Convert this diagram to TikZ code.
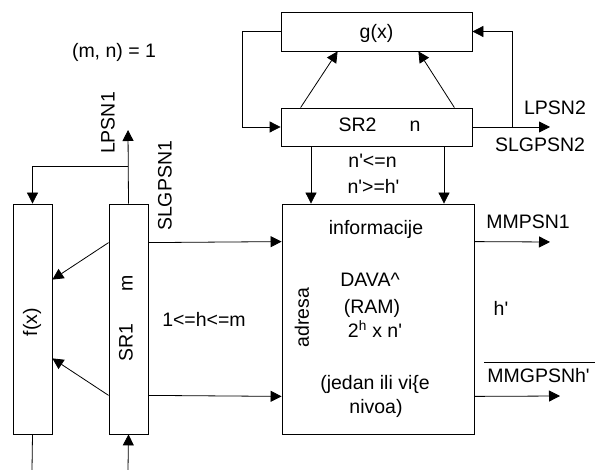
\documentclass[tikz,border=0pt]{standalone}
\usepackage{fontspec}
\setmainfont{Liberation Sans}
\usetikzlibrary{arrows.meta}
\newcommand{\ap}{\textquotesingle}
\tikzset{
  every node/.style={font=\fontsize{19.5}{23.4}\selectfont, inner sep=0pt},
  arr/.style={line width=0.8pt, -{Triangle[length=11pt,width=11pt]}},
  ln/.style={line width=0.8pt},
  lbl/.style={anchor=base},
  vlbl/.style={rotate=90, anchor=center}
}
\begin{document}
\begin{tikzpicture}[x=1pt,y=-1pt]
\useasboundingbox (0,0) rectangle (595,470);
% blocks
\node[draw, line width=0.8pt, minimum width=191pt, minimum height=39pt] (g) at (376.5,31.5) {};
\node[draw, line width=0.8pt, minimum width=191pt, minimum height=38pt] (sr2) at (376.5,127) {};
\node[draw, line width=0.8pt, minimum width=192pt, minimum height=230pt] (ram) at (378,319) {};
\node[draw, line width=0.8pt, minimum width=39pt, minimum height=230pt] (f) at (32.5,319) {};
\node[draw, line width=0.8pt, minimum width=39pt, minimum height=230pt] (sr1) at (128.5,319) {};
% coordinates
\coordinate (out2) at (550,127);
\coordinate (br2) at (512,127);
\coordinate (lp1) at (128,130);
\coordinate (br1) at (128,166);
\coordinate (fin) at (32,470);
\coordinate (srin) at (128,470);
\coordinate (o1) at (550,242);
\coordinate (o2) at (560,396);
% g / SR2 loop
\draw[arr] (g.west) -- ++(-38,0) |- (sr2.west);
\draw[arr] (sr2.east) -- (out2);
\draw[arr] (br2) |- (g.east);
\draw[arr] ([xshift=20pt]sr2.north west) -- ([xshift=57pt]g.south west);
\draw[arr] ([xshift=-18pt]sr2.north east) -- ([xshift=-54pt]g.south east);
% SR2 to RAM
\draw[arr] ([xshift=-65.5pt]sr2.south) -- ([xshift=-65.5pt]sr2.south |- ram.north);
\draw[arr] ([xshift=67.5pt]sr2.south) -- ([xshift=67.5pt]sr2.south |- ram.north);
% SR1
\draw[arr] (sr1.north) -- (lp1);
\draw[arr] (br1) -| (f.north);
\draw[arr] ([yshift=-39pt]sr1.north west) -- ([yshift=-76pt]f.north east);
\draw[arr] ([yshift=39pt]sr1.south west) -- ([yshift=76pt]f.south east);
\draw[arr] ([yshift=-39pt]sr1.north east) -- ([yshift=-38pt]ram.north west);
\draw[arr] ([yshift=39pt]sr1.south east) -- ([yshift=38pt]ram.south west);
\draw[ln] (f.south) -- (fin);
\draw[arr] (srin) -- (sr1.south);
% RAM outputs
\draw[arr] ([yshift=-38pt]ram.north east) -- (o1);
\draw[arr] ([yshift=38pt]ram.south east) -- (o2);
% labels
\node[lbl] (mn) at (114,58) {(m, n) = 1};
\node[lbl] (gx) at (376.5,39) {g(x)};
\node[lbl] (sr2t) at (379.5,132) {SR2\hspace{33pt}n};
\node[lbl] (lpsn2) at (555,115) {LPSN2};
\node[lbl] (slgpsn2) at (540,152) {SLGPSN2};
\node[lbl] (c1) at (372.5,168) {n\ap<=n};
\node[lbl] (c2) at (373.5,194) {n\ap>=h\ap};
\node[vlbl] (lpsn1) at (108,123) {LPSN1};
\node[vlbl] (slgpsn1) at (165,186) {SLGPSN1};
\node[vlbl] (fx) at (32,322) {f(x)};
\node[vlbl] (sr1t) at (126,318) {SR1\hspace{32pt}m};
\node[lbl] (hm) at (204,327) {1<=h<=m};
\node[vlbl] (adr) at (302,317.5) {adresa};
\node[lbl] (inf) at (376,235) {informacije};
\node[lbl] (dava) at (370,287) {DAVA\^{}};
\node[lbl] (ramt) at (372,314) {(RAM)};
\node[lbl] (dim) at (375,338) {2\textsuperscript{h} x n\ap};
\node[lbl] (jed) at (375,390) {(jedan ili vi\{e};
\node[lbl] (niv) at (376,414) {nivoa)};
\node[lbl] (mmp) at (528,229) {MMPSN1};
\node[lbl] (hp) at (501,316) {h\ap};
\node[lbl] (mmg) at (538.5,383) {MMGPSNh\ap};
\draw[ln] (484,362) -- (595,362);
\end{tikzpicture}
\end{document}
